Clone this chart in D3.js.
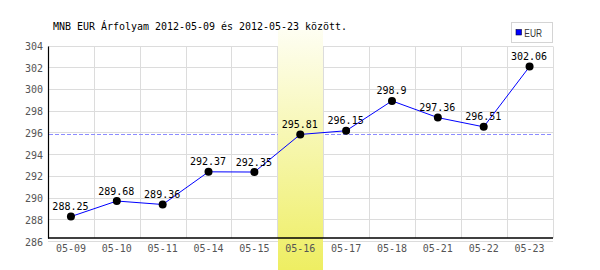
<!DOCTYPE html>
<html><head><meta charset="utf-8">
<script src="https://cdn.jsdelivr.net/npm/d3@7"></script>
<style>body{margin:0;background:#fff}svg{display:block}</style>
</head><body>
<svg id="c" width="600" height="270"></svg>
<script>
const categories = ["05-09","05-10","05-11","05-14","05-15","05-16","05-17","05-18","05-21","05-22","05-23"];
const values = [288.25,289.68,289.36,292.37,292.35,295.81,296.15,298.9,297.36,296.51,302.06];
const valueLabels = ["288.25","289.68","289.36","292.37","292.35","295.81","296.15","298.9","297.36","296.51","302.06"];
const yTicks = [286,288,290,292,294,296,298,300,302,304];
const highlightCat = "05-16";
const highlightValue = 295.81;
const title = "MNB EUR Árfolyam 2012-05-09 és 2012-05-23 között.";
const seriesName = "EUR";

const svg = d3.select("#c");
const mono = "'DejaVu Sans Mono', monospace";
const x = d3.scaleBand().domain(categories).range([48, 552.5]).padding(0);
const y = d3.scaleLinear().domain([286, 304]).range([241, 45.5]);
const cx = d => x(d) + x.bandwidth() / 2;
const r5 = v => Math.round(v) + 0.5;

// gradient
const defs = svg.append("defs");
const g = defs.append("linearGradient").attr("id","hl").attr("x1",0).attr("y1",0).attr("x2",0).attr("y2",1);
g.append("stop").attr("offset","0%").attr("stop-color","#fefef2");
g.append("stop").attr("offset","100%").attr("stop-color","#eeee62");

// horizontal grid
svg.append("g").selectAll("line").data(yTicks).join("line")
  .attr("x1", 48).attr("x2", 553)
  .attr("y1", d => r5(y(d))).attr("y2", d => r5(y(d)))
  .attr("stroke", "#dcdcdc").attr("stroke-width", 1);
// vertical grid
svg.append("g").selectAll("line").data(categories).join("line")
  .attr("x1", d => r5(x(d) + x.bandwidth())).attr("x2", d => r5(x(d) + x.bandwidth()))
  .attr("y1", r5(y(304))).attr("y2", 238)
  .attr("stroke", "#dcdcdc").attr("stroke-width", 1);

// dashed reference line
svg.append("line").attr("x1", 49).attr("x2", 553)
  .attr("y1", r5(y(highlightValue))).attr("y2", r5(y(highlightValue)))
  .attr("stroke", "#8c8cff").attr("stroke-width", 1).attr("stroke-dasharray", "4,2");

// highlight band
svg.append("rect").attr("x", Math.round(x(highlightCat)) + 1).attr("y", 30)
  .attr("width", Math.floor(x.bandwidth())).attr("height", 240)
  .attr("fill", "url(#hl)");

// axes lines
svg.append("line").attr("x1", 48.5).attr("x2", 48.5).attr("y1", r5(y(304))).attr("y2", 238.5)
  .attr("stroke", "#000").attr("stroke-width", 1.2);
svg.append("line").attr("x1", 48).attr("x2", 553).attr("y1", 238).attr("y2", 238)
  .attr("stroke", "#000").attr("stroke-width", 1.3);

// y tick labels
svg.append("g").selectAll("text").data(yTicks).join("text")
  .attr("x", 43).attr("y", d => y(d) + 4.5).attr("text-anchor", "end")
  .attr("font-family", mono).attr("font-size", "10px").attr("fill", "#555")
  .text(d => d);
// x tick labels
svg.append("g").selectAll("text").data(categories).join("text")
  .attr("x", d => cx(d)).attr("y", 251.5).attr("text-anchor", "middle")
  .attr("font-family", mono).attr("font-size", "10px").attr("fill", "#555")
  .text(d => d);

// line
const pts = categories.map((c, i) => [cx(c), y(values[i])]);
svg.append("path").attr("d", d3.line()(pts)).attr("fill", "none")
  .attr("stroke", "#0000ff").attr("stroke-width", 1);
svg.append("g").selectAll("circle").data(pts).join("circle")
  .attr("cx", d => d[0]).attr("cy", d => d[1]).attr("r", 4).attr("fill", "#000");

// value labels
svg.append("g").selectAll("text").data(categories).join("text")
  .attr("x", (c) => cx(c) - 0.5).attr("y", (c, i) => y(values[i]) - 6.5)
  .attr("text-anchor", "middle").attr("font-family", mono).attr("font-size", "10px").attr("fill", "#000")
  .text((c, i) => valueLabels[i]);

// title
svg.append("text").attr("x", 53).attr("y", 29.5).attr("font-family", mono).attr("font-size", "10px")
  .attr("fill", "#000").attr("textLength", 294).attr("lengthAdjust", "spacingAndGlyphs").text(title);

// legend
svg.append("rect").attr("x", 511.5).attr("y", 22.5).attr("width", 41).attr("height", 20)
  .attr("fill", "#fff").attr("stroke", "#d4d4d4").attr("stroke-width", 1);
svg.append("rect").attr("x", 516).attr("y", 29.5).attr("width", 5.5).attr("height", 5.5)
  .attr("fill", "#0000ff").attr("stroke", "#000033").attr("stroke-width", 0.6);
svg.append("text").attr("x", 524.3).attr("y", 36.7).attr("font-family", "'Liberation Sans', Arial, sans-serif")
  .attr("font-size", "10px").attr("fill", "#333").attr("textLength", 17.7).attr("lengthAdjust", "spacingAndGlyphs")
  .text(seriesName);
</script>
</body></html>
